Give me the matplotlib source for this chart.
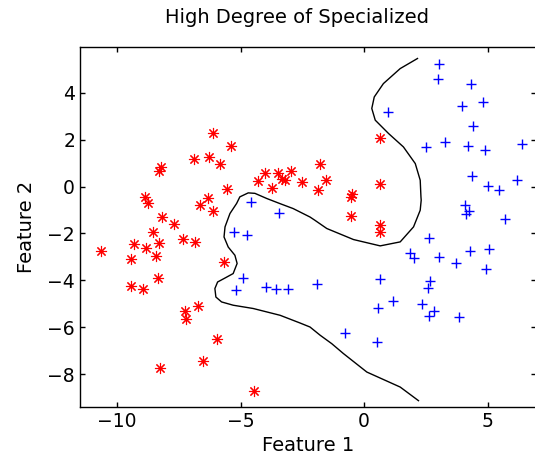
import matplotlib

matplotlib.use('Agg')
import matplotlib.pyplot as plt

# class 1 (red asterisks)
red_x = [-6.13, -5.38, -6.89, -6.28, -5.84, -8.23, -8.30, -5.57, -6.30, -6.63,
         -6.11, -8.88, -8.76, -8.19, -4.01, -3.47, -2.96, -4.28, -3.72, -3.34,
         -3.21, -2.50, 0.66, -1.80, -1.54, -1.86, -0.50, -0.54, 0.65, -0.54,
         0.65, 0.65, -7.71, -8.54, -9.32, -8.30, -8.81, -7.35, -6.86, -10.66,
         -9.42, -8.42, -5.67, -8.35, -9.42, -8.93, -6.74, -7.23, -7.19, -5.97,
         -6.54, -8.27, -4.47]
red_y = [2.30, 1.75, 1.19, 1.26, 0.96, 0.82, 0.67, -0.12, -0.48, -0.80,
         -1.04, -0.44, -0.70, -1.30, 0.57, 0.57, 0.68, 0.23, -0.07, 0.33,
         0.26, 0.18, 2.07, 0.94, 0.30, -0.16, -0.33, -0.44, 0.10, -1.24,
         -1.65, -1.93, -1.58, -1.95, -2.46, -2.40, -2.64, -2.25, -2.38, -2.73,
         -3.11, -2.97, -3.21, -3.91, -4.24, -4.35, -5.08, -5.32, -5.66, -6.51,
         -7.42, -7.73, -8.73]

# class 2 (blue plus)
blue_x = [-4.57, -3.43, 3.03, 2.97, 4.34, 3.98, 4.80, 0.95, 4.42, 2.49,
          3.26, 4.22, 4.90, 6.40, 4.35, 5.03, 5.47, 6.19, 4.07, 4.24,
          4.12, 5.72, 2.61, 1.85, 2.03, 3.03, 3.73, 4.30, 5.07, 4.93,
          -1.92, 0.64, 2.65, 2.58, 1.18, 0.57, 2.35, 2.81, 2.62, 3.84,
          -0.78, 0.51, -5.27, -4.73, -4.89, -5.19, -3.98, -3.55, -3.08]
blue_y = [-0.67, -1.14, 5.24, 4.59, 4.36, 3.44, 3.62, 3.17, 2.60, 1.69,
          1.88, 1.75, 1.55, 1.82, 0.44, 0.01, -0.16, 0.26, -0.77, -1.04,
          -1.18, -1.39, -2.19, -2.82, -3.03, -3.00, -3.27, -2.76, -2.66, -3.51,
          -4.14, -3.95, -4.04, -4.31, -4.89, -5.20, -5.00, -5.32, -5.53, -5.57,
          -6.23, -6.61, -1.93, -2.05, -3.92, -4.42, -4.29, -4.37, -4.35]

# decision boundary
bnd_x = [2.20, 1.46, 0.11, -0.84, -1.31, -1.78, -2.19, -2.59, -3.40, -4.49,
         -5.30, -5.77, -6.00, -6.04, -5.93, -5.63, -5.30, -5.14, -5.23, -5.50,
         -5.67, -5.63, -5.43, -5.16, -5.03, -4.69, -4.42, -3.94, -3.40, -2.87,
         -2.19, -1.99, -1.51, -0.43, 0.65, 1.46, 2.00, 2.27, 2.31, 2.30,
         2.27, 2.07, 1.59, 0.99, 0.45, 0.31, 0.41, 0.78, 1.46, 2.16]
bnd_y = [-9.13, -8.55, -7.91, -7.12, -6.70, -6.34, -5.99, -5.82, -5.49, -5.20,
         -5.06, -4.92, -4.71, -4.35, -4.07, -3.90, -3.71, -3.28, -2.93, -2.58,
         -2.15, -1.72, -1.15, -0.72, -0.44, -0.27, -0.29, -0.51, -0.73, -0.94,
         -1.30, -1.44, -1.79, -2.26, -2.53, -2.36, -1.72, -1.01, -0.58, -0.44,
         0.27, 0.98, 1.69, 2.26, 2.83, 3.33, 3.82, 4.39, 5.03, 5.46]

fig = plt.figure(figsize=(5.35, 4.55), dpi=100)
# right spine sits just outside the canvas, as in the reference
ax = fig.add_axes([0.1495, 0.1055, 0.853, 0.7912])

ax.plot(red_x, red_y, linestyle="none", marker=(8, 2, 0), color="red",
        markersize=8, markeredgewidth=0.8)
ax.plot(blue_x, blue_y, linestyle="none", marker="+", color="blue",
        markersize=7.5, markeredgewidth=1.0)
ax.plot(bnd_x, bnd_y, color="black", linewidth=1.0)

ax.set_xlim(-11.5, 6.97)
ax.set_ylim(-9.4, 5.95)
ax.set_xticks([-10, -5, 0, 5])
ax.set_yticks([-8, -6, -4, -2, 0, 2, 4])
ax.tick_params(direction="in", top=True, right=True, length=3.5, width=1.0,
               labelsize=13.5)
for s in ax.spines.values():
    s.set_linewidth(1.0)

ax.set_title("High Degree of Specialized", fontsize=14, pad=17, x=0.475)
ax.set_xlabel("Feature 1", fontsize=14, labelpad=4)
ax.set_ylabel("Feature 2", fontsize=14, labelpad=8)

fig.savefig("out.png", dpi=100)
